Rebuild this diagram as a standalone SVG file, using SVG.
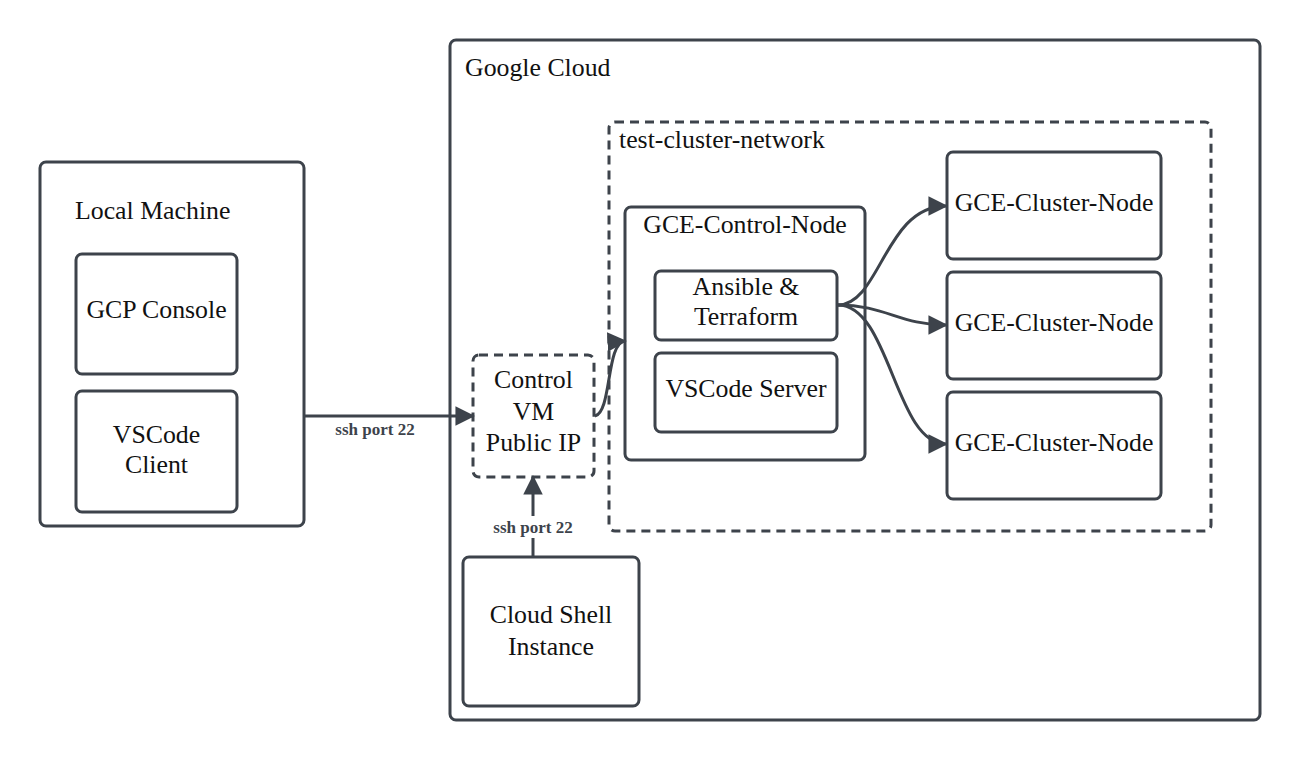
<svg xmlns="http://www.w3.org/2000/svg" width="1301" height="760" viewBox="0 0 1301 760">
<style>
.box{fill:#fff;stroke:#3d434b;stroke-width:3}
.dash{fill:none;stroke:#3d434b;stroke-width:3;stroke-dasharray:9 6}
.t{font-family:"Liberation Serif","Times New Roman",serif;font-size:25.8px;fill:#111}
.c{text-anchor:middle}
.lbl{font-family:"Liberation Serif","Times New Roman",serif;font-size:17px;font-weight:bold;fill:#3d434b;text-anchor:middle}
.conn{fill:none;stroke:#3d434b;stroke-width:3}
</style>
<defs>
<marker id="arr" viewBox="0 0 10 10" refX="9" refY="5" markerWidth="6.5" markerHeight="6.5" markerUnits="strokeWidth" orient="auto">
<path d="M0,0 L10,5 L0,10 z" fill="#3d434b"/>
</marker>
</defs>
<rect width="1301" height="760" fill="#fff"/>
<g id="local-machine">
<rect class="box" x="40" y="162" width="264" height="364" rx="6"/>
<text class="t" x="75" y="219">Local Machine</text>
</g>
<g id="gcp-console">
<rect class="box" x="76" y="254" width="161" height="120" rx="6"/>
<text class="t c" x="156.5" y="318">GCP Console</text>
</g>
<g id="vscode-client">
<rect class="box" x="76" y="391" width="161" height="121" rx="6"/>
<text class="t c" x="156.5" y="443">VSCode</text>
<text class="t c" x="156.5" y="473">Client</text>
</g>
<g id="google-cloud">
<rect class="box" x="450" y="40" width="810" height="680" rx="6"/>
<text class="t" x="465" y="76">Google Cloud</text>
</g>
<g id="test-cluster-network">
<rect class="dash" x="609" y="122" width="602" height="409" rx="6"/>
<text class="t" x="619" y="148">test-cluster-network</text>
</g>
<g id="gce-control-node">
<rect class="box" x="625" y="207" width="240" height="253" rx="6"/>
<text class="t c" x="745" y="233">GCE-Control-Node</text>
</g>
<g id="ansible-terraform">
<rect class="box" x="655" y="271" width="182" height="69" rx="6"/>
<text class="t c" x="746" y="295">Ansible &amp;</text>
<text class="t c" x="746" y="325">Terraform</text>
</g>
<g id="vscode-server">
<rect class="box" x="655" y="353" width="182" height="79" rx="6"/>
<text class="t c" x="746" y="397">VSCode Server</text>
</g>
<g id="cluster-node-1">
<rect class="box" x="947" y="152" width="214" height="107" rx="6"/>
<text class="t c" x="1054" y="211">GCE-Cluster-Node</text>
</g>
<g id="cluster-node-2">
<rect class="box" x="947" y="272" width="214" height="107" rx="6"/>
<text class="t c" x="1054" y="331">GCE-Cluster-Node</text>
</g>
<g id="cluster-node-3">
<rect class="box" x="947" y="392" width="214" height="107" rx="6"/>
<text class="t c" x="1054" y="451">GCE-Cluster-Node</text>
</g>
<g id="control-vm-ip">
<rect x="473" y="355" width="121" height="122" rx="6" fill="#fff"/>
<rect class="dash" x="473" y="355" width="121" height="122" rx="6"/>
<text class="t c" x="533.5" y="388">Control</text>
<text class="t c" x="533.5" y="420">VM</text>
<text class="t c" x="533.5" y="451">Public IP</text>
</g>
<g id="cloud-shell">
<rect class="box" x="463" y="557" width="176" height="149" rx="6"/>
<text class="t c" x="551" y="623">Cloud Shell</text>
<text class="t c" x="551" y="655">Instance</text>
</g>
<g id="connectors">
<path class="conn" d="M304,416 L473,416" marker-end="url(#arr)"/>
<text class="lbl" x="375" y="435">ssh port 22</text>
<path class="conn" d="M533,557 L533,477" marker-end="url(#arr)"/>
<rect x="488" y="516" width="90" height="22" fill="#fff"/>
<text class="lbl" x="533" y="533">ssh port 22</text>
<path class="conn" d="M595,416 C612,412 606,342 625,341" marker-end="url(#arr)"/>
<path class="conn" d="M838,305 C880,305 885,206 946,206" marker-end="url(#arr)"/>
<path class="conn" d="M838,305 C885,305 900,325 946,325" marker-end="url(#arr)"/>
<path class="conn" d="M838,305 C890,305 895,444 946,444" marker-end="url(#arr)"/>
</g>
</svg>
